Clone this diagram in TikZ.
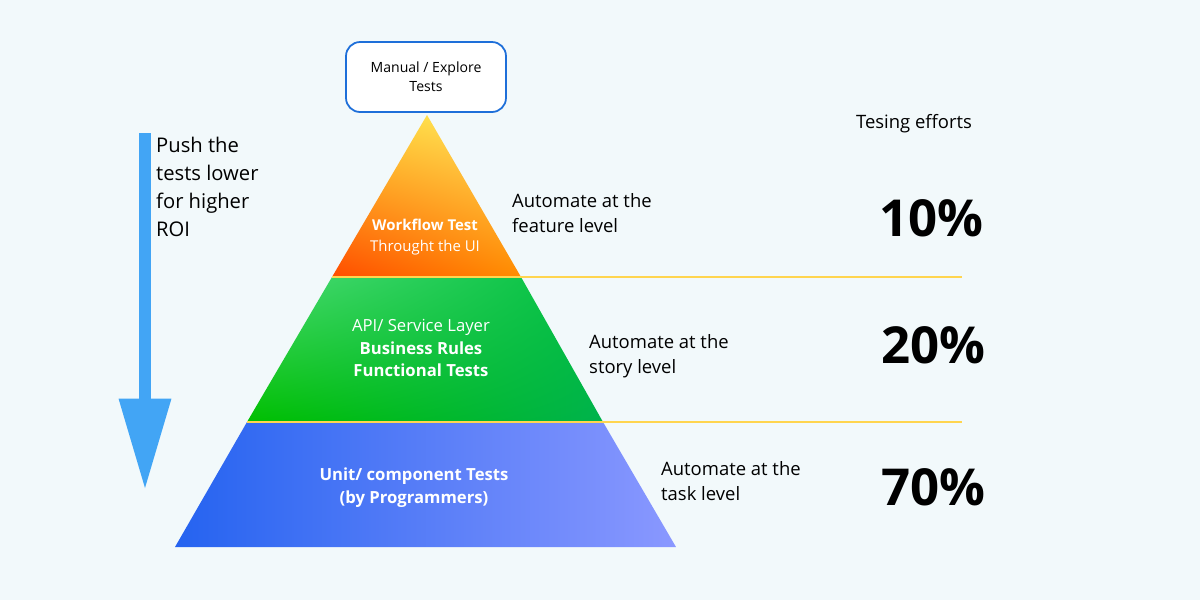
\documentclass[tikz,border=0pt]{standalone}
\usepackage{fontspec}
\setmainfont{Open Sans}
\usetikzlibrary{arrows.meta,shadings}
\definecolor{bgc}{HTML}{F2F9FB}
\definecolor{arrc}{HTML}{42A5F5}
\definecolor{boxc}{HTML}{1E6FD9}
\definecolor{sepc}{HTML}{FFD54F}
\definecolor{bluel}{HTML}{2563F0}
\definecolor{bluer}{HTML}{8A98FF}
\tikzset{
  pct/.style={anchor=east,font=\fontsize{29}{32}\selectfont\bfseries},
  auto/.style={anchor=north west,align=left,font=\fontsize{10.5}{14.5}\selectfont},
  band/.style={white,align=center,font=\fontsize{8.5}{11.5}\selectfont}
}
\begin{document}
\begin{tikzpicture}[x=0.02cm,y=-0.02cm]
        \fill[bgc] (0,0) rectangle (1200,600);
        \useasboundingbox (0,0) rectangle (1200,600);

        % pyramid bands
        \begin{scope}
          \clip (427,115) -- (521,277) -- (332,277) -- cycle;
          \shade[lower left=orange!60!red,upper left=orange!40!yellow!80!white,upper right=orange!30!yellow!60!white,lower right=orange!90!yellow] (332,115) rectangle (521,277);
        \end{scope}
        \begin{scope}
          \clip (332,277) -- (521,277) -- (603,422) -- (247,422) -- cycle;
          \shade[lower left=green!75!black,upper left=green!60!teal!70!white,upper right=green!50!teal,lower right=teal!60!green] (247,277) rectangle (603,422);
        \end{scope}
        \begin{scope}
          \clip (247,422) -- (603,422) -- (676,547) -- (175,547) -- cycle;
          \shade[left color=bluel,right color=bluer] (175,422) rectangle (676,547);
        \end{scope}

        % separators
        \draw[sepc,line width=1.5pt] (332,277) -- (962,277);
        \draw[sepc,line width=1.5pt] (247,422) -- (962,422);

        % top box
        \node[draw=boxc,line width=1pt,fill=white,rounded corners=8,minimum width=3.2cm,minimum height=1.4cm,align=center,font=\fontsize{8}{11}\selectfont] (manual) at (426,77) {Manual / Explore\\Tests};

        \node[band] (workflow) at (425,237) {\textbf{Workflow Test}\\Throught the UI};
        \node[band,font=\fontsize{9.5}{13}\selectfont] (api) at (421,348) {API/ Service Layer\\\textbf{Business Rules}\\\textbf{Functional Tests}};
        \node[band,font=\fontsize{9.5}{13}\selectfont\bfseries] (unit) at (414,488) {Unit/ component Tests\\(by Programmers)};

        % push arrow
        \coordinate (pushtop) at (145,133);
        \coordinate (pushend) at (145,490);
        \draw[arrc,line width=7pt,-{Triangle[width=28pt,length=52pt]}] (pushtop) -- (pushend);
        \node[auto,font=\fontsize{11.5}{16}\selectfont] (push) at (150,131) {Push the\\tests lower\\for higher\\ROI};

        % right side
        \node[auto] (feat) at (506,187) {Automate at the\\feature level};
        \node[auto] (story) at (583,328) {Automate at the\\story level};
        \node[auto] (task) at (655,455) {Automate at the\\task level};

        \node[font=\fontsize{10.5}{14}\selectfont] (effort) at (914,124) {Tesing efforts};
        \node[pct] (p10) at (990,218) {10\%};
        \node[pct] (p20) at (992,345) {20\%};
        \node[pct] (p70) at (992,487) {70\%};
      \end{tikzpicture}
\end{document}
